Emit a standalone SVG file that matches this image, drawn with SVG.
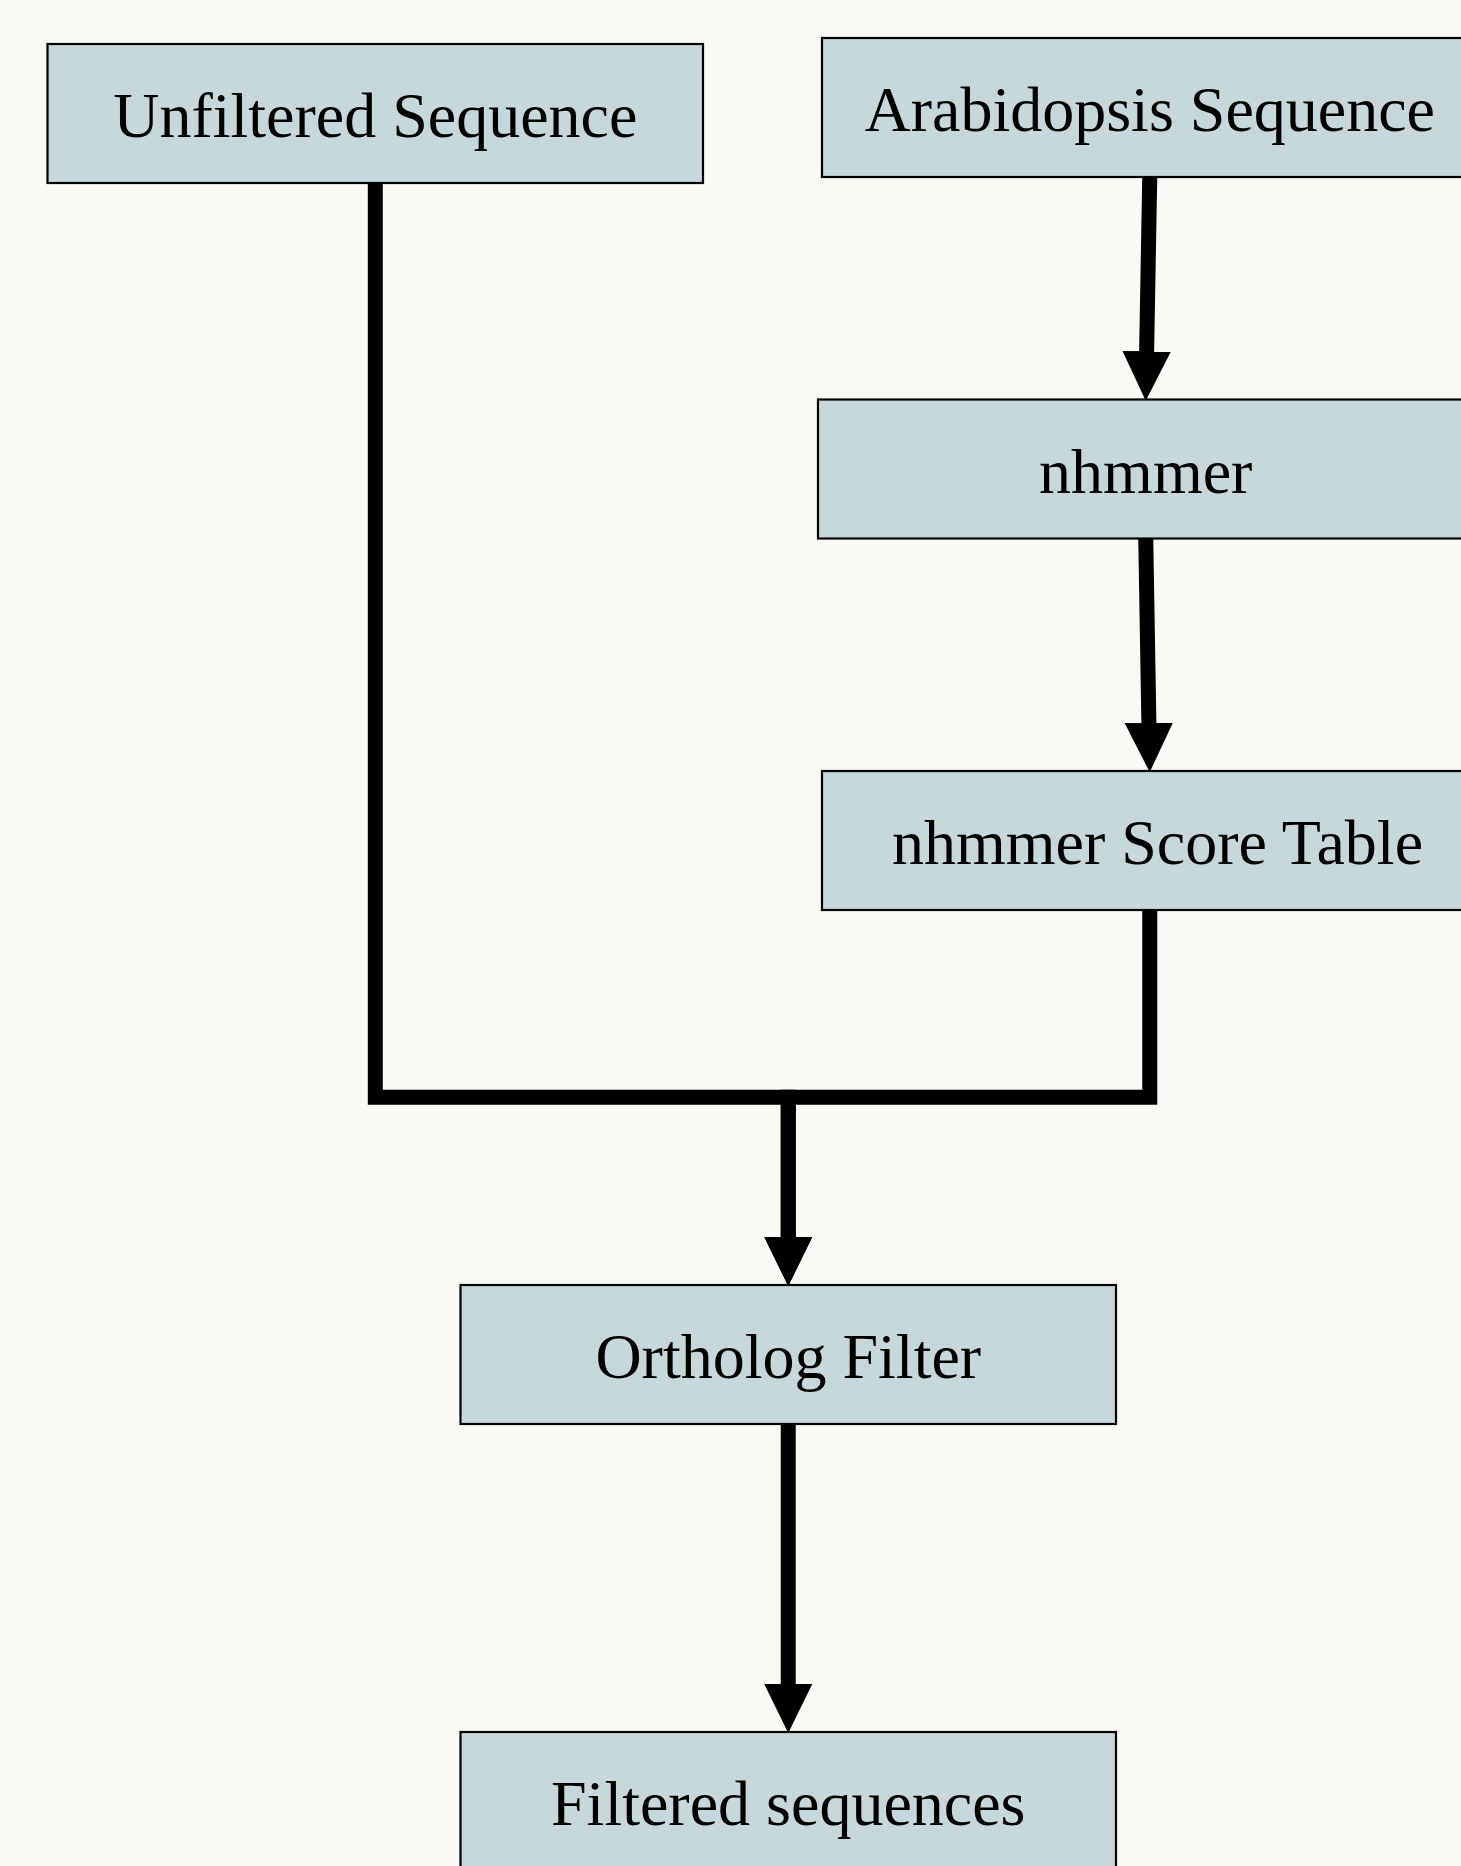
<svg xmlns="http://www.w3.org/2000/svg" width="1461" height="1866" viewBox="0 0 1461 1866">
  <style>
    .node rect { fill: #c7d8dc; stroke: #000000; stroke-width: 2.2; }
    .node text { font-family: "Liberation Serif", "Times New Roman", serif; font-size: 64px; fill: #000000; text-anchor: middle; }
    .edge { fill: none; stroke: #000000; stroke-width: 15; stroke-linejoin: miter; stroke-linecap: butt; }
  </style>
  <defs>
    <marker id="arrowhead" markerUnits="userSpaceOnUse" markerWidth="50" markerHeight="50" viewBox="0 -25 50 50" refX="0.5" refY="0" orient="auto">
      <path d="M0,-23.5 L48,0 L0,23.5 Z" fill="#000000" stroke="#000000" stroke-width="1"/>
    </marker>
  </defs>

  <rect x="0" y="0" width="1461" height="1866" fill="#f9faf4"/>

  <!-- connectors -->
  <g id="edges">
    <path id="e_arabidopsis_nhmmer" class="edge" d="M1149.75,177 L1146.6,352" marker-end="url(#arrowhead)"/>
    <path id="e_nhmmer_scoretable" class="edge" d="M1145.75,538.5 L1148.9,723.5" marker-end="url(#arrowhead)"/>
    <path id="e_scoretable_ortholog" class="edge" d="M1149.75,910 V1097.3 H788.25 V1237.5" marker-end="url(#arrowhead)"/>
    <path id="e_unfiltered_ortholog" class="edge" d="M375.3,183 V1097.3 H788.25 V1237.5" marker-end="url(#arrowhead)"/>
    <path id="e_ortholog_filtered" class="edge" d="M788.25,1424 V1684.5" marker-end="url(#arrowhead)"/>
  </g>

  <!-- nodes -->
  <g id="unfiltered_sequence" class="node">
    <rect x="47.5" y="44" width="655.5" height="139"/>
    <text x="375.3" y="137">Unfiltered Sequence</text>
  </g>
  <g id="arabidopsis_sequence" class="node">
    <rect x="822" y="38" width="655.5" height="139"/>
    <text x="1149.75" y="131">Arabidopsis Sequence</text>
  </g>
  <g id="nhmmer" class="node">
    <rect x="818" y="399.5" width="655.5" height="139"/>
    <text x="1145.75" y="492.5">nhmmer</text>
  </g>
  <g id="nhmmer_score_table" class="node">
    <rect x="822" y="771" width="655.5" height="139"/>
    <text x="1157.5" y="864">nhmmer Score Table</text>
  </g>
  <g id="ortholog_filter" class="node">
    <rect x="460.5" y="1285" width="655.5" height="139"/>
    <text x="788.25" y="1378">Ortholog Filter</text>
  </g>
  <g id="filtered_sequences" class="node">
    <rect x="460.5" y="1732" width="655.5" height="139"/>
    <text x="788.25" y="1825">Filtered sequences</text>
  </g>
</svg>
